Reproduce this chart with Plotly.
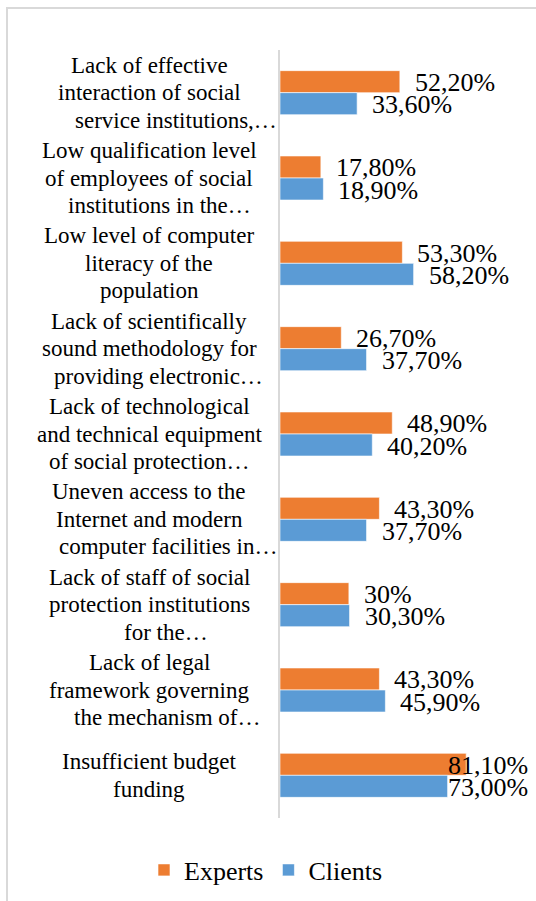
import plotly.graph_objects as go

# Problems of electronic social services, share of respondents (%)
categories = [
    ["Lack of effective", "interaction of social", "service institutions,…"],
    ["Low qualification level", "of employees of social", "institutions in the…"],
    ["Low level of computer", "literacy of the", "population"],
    ["Lack of scientifically", "sound methodology for", "providing electronic…"],
    ["Lack of technological", "and technical equipment", "of social protection…"],
    ["Uneven access to the", "Internet and modern", "computer facilities in…"],
    ["Lack of staff of social", "protection institutions", "for the…"],
    ["Lack of legal", "framework governing", "the mechanism of…"],
    ["Insufficient budget", "funding"],
]
experts = [52.2, 17.8, 53.3, 26.7, 48.9, 43.3, 30.0, 43.3, 81.1]
clients = [33.6, 18.9, 58.2, 37.7, 40.2, 37.7, 30.3, 45.9, 73.0]
experts_text = ["52,20%", "17,80%", "53,30%", "26,70%", "48,90%", "43,30%", "30%", "43,30%", "81,10%"]
clients_text = ["33,60%", "18,90%", "58,20%", "37,70%", "40,20%", "37,70%", "30,30%", "45,90%", "73,00%"]

ORANGE = "#ED7D31"
BLUE = "#5B9BD5"
FONT = "Liberation Serif"

W, H = 536, 901
PL, PR, PT, PB = 280, 536, 50, 818          # plot area in pixels
X_MAX = 111.5                                # x range upper bound (%)
PX_PER_UNIT = (PR - PL) / X_MAX
ROW_PX = (PB - PT) / len(categories)
BARGAP = 0.484
BAR_W = (1 - BARGAP) / 2

LABEL_SIZE = 26
CAT_SIZE = 23
CAT_LINE_PX = 27.5
LABEL_GAP = 15
LABEL_EDGE = 529.5                           # labels must end inside this x (px)

# horizontal offset (px) of truncated last lines, per category
TRUNC_SHIFT = [27, 10, 0, 9, 0, 19, 17, 18, 0]


def paper_x(px):
    return (px - PL) / (PR - PL)


def paper_y(py):
    return (PB - py) / (PB - PT)


CHAR_EM = {",": 0.25, "%": 0.833}


def text_width(s, size):
    return sum(CHAR_EM.get(c, 0.5) for c in s) * size


ypos = list(range(len(categories)))

fig = go.Figure()
fig.add_trace(go.Bar(
    name="Experts", y=ypos, x=experts, orientation="h",
    marker=dict(color=ORANGE, line=dict(color="rgba(255,255,255,0.6)", width=1)),
))
fig.add_trace(go.Bar(
    name="Clients", y=ypos, x=clients, orientation="h",
    marker=dict(color=BLUE, line=dict(color="rgba(255,255,255,0.6)", width=1)),
))

annotations = []

# value labels, pushed back inside when they would overflow the plot area
for series, texts, sign in ((experts, experts_text, -1), (clients, clients_text, 1)):
    for i, (v, t) in enumerate(zip(series, texts)):
        end_px = PL + v * PX_PER_UNIT
        y = i + sign * BAR_W / 2
        if end_px + LABEL_GAP + text_width(t, LABEL_SIZE) > LABEL_EDGE:
            annotations.append(dict(
                x=(LABEL_EDGE - PL) / PX_PER_UNIT, y=y, xref="x", yref="y",
                text=t, showarrow=False, xanchor="right", yanchor="middle",
                yshift=-1, font=dict(family=FONT, size=LABEL_SIZE, color="black"),
            ))
        else:
            annotations.append(dict(
                x=v, y=y, xref="x", yref="y", text=t, showarrow=False,
                xanchor="left", yanchor="middle", xshift=LABEL_GAP - 2, yshift=-1,
                font=dict(family=FONT, size=LABEL_SIZE, color="black"),
            ))

# category labels: each line centred on a common axis
CAT_CENTER_PX = 149
for i, lines in enumerate(categories):
    n = len(lines)
    for k, line in enumerate(lines):
        dy = (k - (n - 1) / 2) * CAT_LINE_PX / ROW_PX
        shift = TRUNC_SHIFT[i] if line.endswith("…") else 0
        annotations.append(dict(
            x=paper_x(CAT_CENTER_PX), y=i + dy, xref="paper", yref="y",
            text=line, showarrow=False, xanchor="center", yanchor="middle",
            xshift=shift, font=dict(family=FONT, size=CAT_SIZE, color="black"),
        ))

# chart frame
shapes = [dict(
    type="rect", xref="paper", yref="paper",
    x0=paper_x(7), x1=paper_x(560), y0=paper_y(930), y1=paper_y(8),
    line=dict(color="#D9D9D9", width=2), fillcolor="rgba(0,0,0,0)", layer="below",
)]

fig.update_layout(
    width=W, height=H,
    margin=dict(l=PL, r=W - PR, t=PT, b=H - PB, pad=0),
    paper_bgcolor="white", plot_bgcolor="white",
    font=dict(family=FONT, color="black"),
    barmode="group", bargap=BARGAP, bargroupgap=0,
    xaxis=dict(range=[0, X_MAX], showgrid=False, zeroline=False,
               showticklabels=False, showline=False, ticks=""),
    yaxis=dict(range=[len(categories) - 0.5, -0.5], showgrid=False, zeroline=False,
               showticklabels=False, ticks="", showline=True,
               linecolor="#D9D9D9", linewidth=2),
    showlegend=True,
    legend=dict(orientation="h", x=paper_x(266), xanchor="center",
                y=paper_y(870), yanchor="middle",
                font=dict(family=FONT, size=LABEL_SIZE, color="black"),
                itemwidth=30, traceorder="normal"),
    annotations=annotations,
    shapes=shapes,
)

fig.write_html("out.html")
